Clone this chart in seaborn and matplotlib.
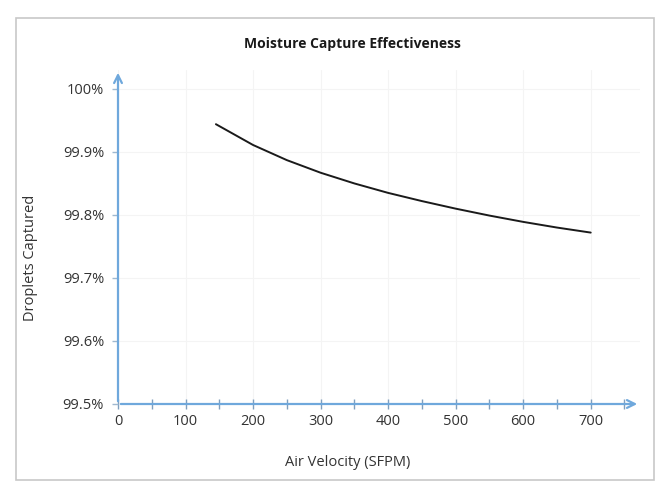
import numpy as np
import pandas as pd
import seaborn as sns
import matplotlib.pyplot as plt
from matplotlib.patches import Rectangle
from matplotlib.ticker import MultipleLocator

# data
air_velocity = [145, 200, 250, 300, 350, 400, 450, 500, 550, 600, 650, 700]
captured = [99.944, 99.911, 99.887, 99.867, 99.850, 99.835, 99.822, 99.810,
            99.799, 99.789, 99.780, 99.772]
x_ticks = [0, 100, 200, 300, 400, 500, 600, 700]
y_ticks = [99.5, 99.6, 99.7, 99.8, 99.9, 100.0]
y_labels = ["99.5%", "99.6%", "99.7%", "99.8%", "99.9%", "100%"]

df = pd.DataFrame({"vel": air_velocity, "cap": captured})

sns.set_style("white")
plt.rcParams["font.family"] = ["Open Sans", "DejaVu Sans"]

W, H = 668, 482
fig = plt.figure(figsize=(W / 100, H / 100), dpi=100)
ax = fig.add_axes([118 / W, 1 - 404 / H, (640 - 118) / W, (404 - 70) / H])

sns.lineplot(data=df, x="vel", y="cap", ax=ax, color="#1a1a1a", linewidth=1.4)

axis_blue = "#6fa8dc"
ax.set_xlim(0, 773)
ax.set_ylim(99.5, 100.03)
for s in ax.spines.values():
    s.set_visible(False)

# axis lines with arrow heads
ax.annotate("", xy=(1, 0), xytext=(0, 0), xycoords="axes fraction",
            arrowprops=dict(arrowstyle="->", color=axis_blue, lw=1.6,
                            mutation_scale=14))
ax.annotate("", xy=(0, 1), xytext=(0, 0), xycoords="axes fraction",
            arrowprops=dict(arrowstyle="->", color=axis_blue, lw=1.6,
                            mutation_scale=14))

ax.set_xticks(x_ticks)
ax.xaxis.set_minor_locator(MultipleLocator(50))
ax.set_yticks(y_ticks)
ax.set_yticklabels(y_labels)
ax.tick_params(axis="x", which="both", direction="inout", length=7, width=1,
               color="#7f9fbf", labelsize=10.5, pad=4, bottom=True)
ax.tick_params(axis="y", which="both", direction="out", length=4, width=1,
               color="#9fb8d0", labelsize=10.5, pad=6, left=True)
ax.tick_params(labelcolor="#333333")

ax.grid(True, color="#f4f4f4", linewidth=0.8)

ax.set_xlabel("")
ax.set_ylabel("")
fig.text(352 / W, 1 - 44 / H, "Moisture Capture Effectiveness", ha="center",
         va="center", fontsize=10, fontweight="bold", color="#1a1a1a")
fig.text(348 / W, 1 - 462 / H, "Air Velocity (SFPM)", ha="center", va="center",
         fontsize=10.5, color="#333333")
fig.text(30 / W, 1 - 258 / H, "Droplets Captured", ha="center", va="center",
         rotation=90, fontsize=10.5, color="#333333")

fig.patches.append(Rectangle((16 / W, 2 / H), (654 - 16) / W, (464 - 2) / H,
                             transform=fig.transFigure, fill=False,
                             edgecolor="#c8c8c8", linewidth=1.2))

fig.savefig("out.png", dpi=100)
